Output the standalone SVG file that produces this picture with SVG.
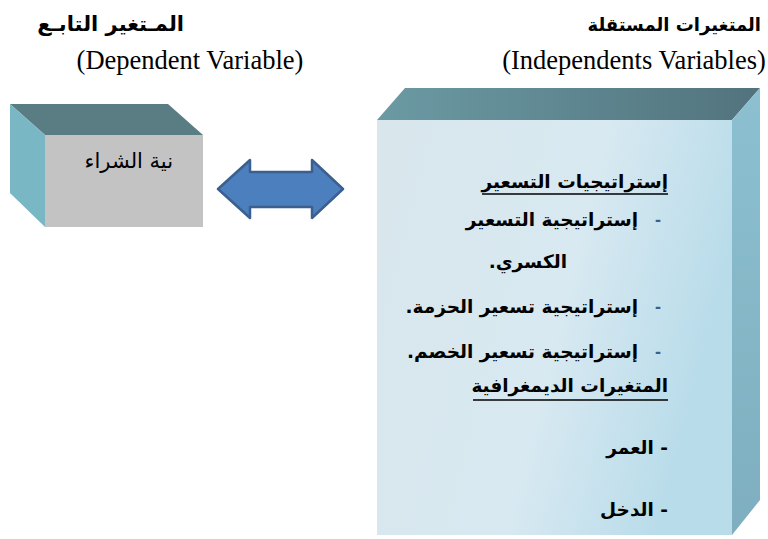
<svg xmlns="http://www.w3.org/2000/svg" width="768" height="539" viewBox="0 0 768 539">
<style>
.ar{font-family:"DejaVu Sans","Noto Sans",sans-serif;direction:rtl;text-anchor:start;fill:#000}
.b{font-weight:bold}
.bx{font-size:18.5px}
.en{font-family:"Liberation Serif","Times New Roman",serif;font-size:26.5px;fill:#000;text-anchor:middle}
.dash{font-family:"Liberation Sans",sans-serif;font-weight:bold;font-size:18px;fill:#3c5f8c}
.ul{stroke:#000;stroke-width:1.6}
</style>
<defs>
<linearGradient id="front" x1="0" y1="0" x2="1" y2="0.3">
<stop offset="0" stop-color="#d9e6ec"/>
<stop offset="0.6" stop-color="#d8e9f1"/>
<stop offset="1" stop-color="#b9dcea"/>
</linearGradient>
<linearGradient id="topR" x1="0" y1="0" x2="1" y2="0">
<stop offset="0" stop-color="#6b9aa3"/>
<stop offset="1" stop-color="#52737e"/>
</linearGradient>
<linearGradient id="sideR" x1="0" y1="0" x2="0" y2="1">
<stop offset="0" stop-color="#8cc0d0"/>
<stop offset="1" stop-color="#7eaebf"/>
</linearGradient>
</defs>
<g id="title-dependent">
<text class="ar b" x="184" y="31" font-size="21">المـتغير التابـع</text>
<text class="en" x="190" y="69">(Dependent Variable)</text>
</g>
<g id="title-independent">
<text class="ar b" x="761" y="31" font-size="18">المتغيرات المستقلة</text>
<text class="en" x="634" y="69">(Independents Variables)</text>
</g>
<g id="node-dependent">
<polygon points="10,104 168,104 203,135 45,135" fill="#5a7d84"/>
<polygon points="10,104 45,135 45,227 10,193" fill="#7ab7c4"/>
<rect x="45" y="135" width="158" height="92" fill="#c3c3c3"/>
<text class="ar" x="173" y="168" font-size="21">نية الشراء</text>
</g>
<g id="connectors">
<polygon points="218,189 250,160 250,172 312,172 312,160 343,189 312,218 312,207 250,207 250,218" fill="#4b7fbd" stroke="#3b5f8e" stroke-width="2.5" stroke-linejoin="round"/>
</g>
<g id="node-independent">
<polygon points="377,120 405,88 760,88 732,120" fill="url(#topR)"/>
<polygon points="732,120 760,88 760,500 732,535" fill="url(#sideR)"/>
<rect x="377" y="120" width="355" height="415" fill="url(#front)"/>
<text class="ar b bx" x="668" y="188">إستراتيجيات التسعير</text>
<line class="ul" x1="482" y1="194" x2="668" y2="194"/>
<text class="dash" x="655" y="226">-</text>
<text class="ar b bx" x="638" y="226">إستراتيجية التسعير</text>
<text class="ar b bx" x="567" y="268">الكسري.</text>
<text class="dash" x="655" y="313">-</text>
<text class="ar b bx" x="638" y="313">إستراتيجية تسعير الحزمة.</text>
<text class="dash" x="655" y="358">-</text>
<text class="ar b bx" x="638" y="358">إستراتيجية تسعير الخصم.</text>
<text class="ar b bx" x="668" y="392">المتغيرات الديمغرافية</text>
<line class="ul" x1="473" y1="400" x2="668" y2="400"/>
<text class="ar b bx" x="668" y="454">- العمر</text>
<text class="ar b bx" x="668" y="516">- الدخل</text>
</g>
</svg>
